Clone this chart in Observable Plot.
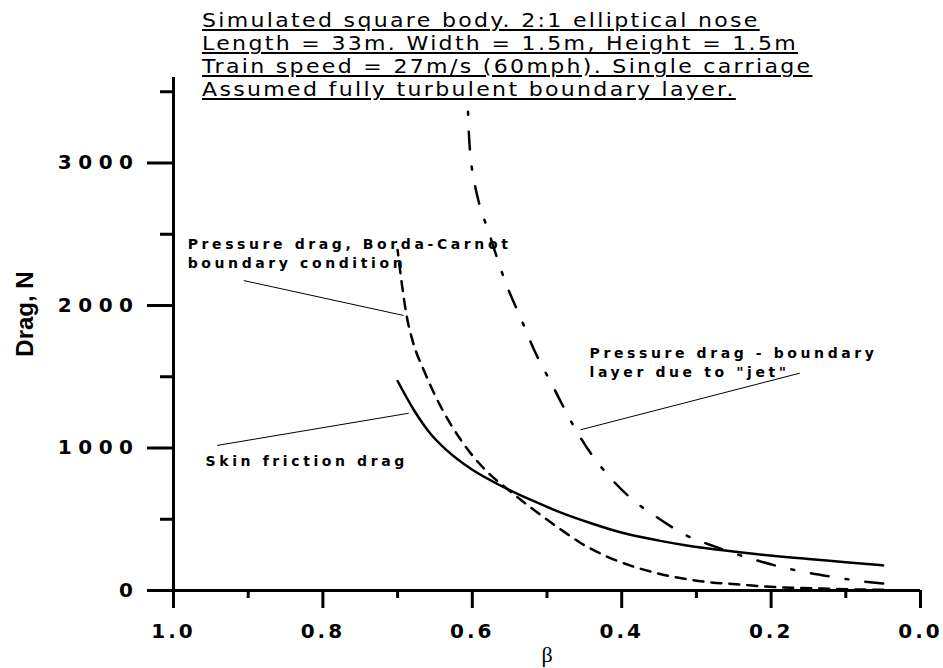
<!DOCTYPE html>
<html><head><meta charset="utf-8">
<script src="https://cdn.jsdelivr.net/npm/d3@7"></script>
<script src="https://cdn.jsdelivr.net/npm/@observablehq/plot@0.6"></script>
<style>
body{margin:0;background:#fff;}
#wrap{position:relative;width:943px;height:668px;}
#title{position:absolute;left:202px;top:9px;font-family:"DejaVu Sans";font-size:19px;line-height:23px;letter-spacing:2px;color:#000;white-space:pre;transform:scaleX(1.16);transform-origin:0 0;}
#title div{text-decoration:underline;text-decoration-thickness:1.5px;text-underline-offset:2px;}
g[aria-label="y-axis tick label"] text{letter-spacing:6.5px;}
g[aria-label="x-axis tick label"] text{letter-spacing:3px;}
g[aria-description="annot"] text{letter-spacing:3.6px;}
</style></head>
<body><div id="wrap"><div id="title"></div></div>
<script>
const titleLines = [
  "Simulated square body. 2:1 elliptical nose",
  "Length = 33m. Width = 1.5m, Height = 1.5m",
  "Train speed = 27m/s (60mph). Single carriage",
  "Assumed fully turbulent boundary layer."
];
const xMajorTicks = [1.0, 0.8, 0.6, 0.4, 0.2, 0.0];
const xMinorTicks = [0.9, 0.7, 0.5, 0.3, 0.1];
const yMajorTicks = [0, 1000, 2000, 3000];
const yMinorTicks = [500, 1500, 2500, 3500];

// Skin friction drag (solid)
const skinBeta = [0.70, 0.678, 0.656, 0.634, 0.602, 0.567, 0.522, 0.483, 0.44, 0.403, 0.35, 0.313, 0.242, 0.215, 0.15, 0.10, 0.05];
const skinDrag = [1470, 1265, 1100, 983, 854, 749, 637, 550, 470, 410, 350, 316, 269, 253, 221, 199, 176];

// Pressure drag, Borda-Carnot (dashed)
const bordaBeta = [0.70, 0.694, 0.688, 0.680, 0.664, 0.642, 0.615, 0.575, 0.556, 0.52, 0.482, 0.456, 0.423, 0.389, 0.353, 0.318, 0.282, 0.242, 0.208, 0.17, 0.132, 0.09, 0.05];
const bordaDrag = [2390, 2140, 1930, 1754, 1535, 1288, 1054, 808, 725, 575, 430, 337, 246, 176, 122, 84, 58, 42, 28, 19, 14, 8, 5];

// Pressure drag, boundary layer due to jet (dash-dot)
const jetBeta = [0.606, 0.6045, 0.602, 0.597, 0.591, 0.579, 0.555, 0.535, 0.515, 0.494, 0.465, 0.441, 0.416, 0.387, 0.353, 0.313, 0.273, 0.219, 0.17, 0.121, 0.067, 0.05];
const jetDrag = [3400, 3200, 3030, 2860, 2720, 2530, 2155, 1909, 1663, 1452, 1160, 960, 796, 644, 515, 386, 304, 211, 145, 98, 58, 49];

const annotText = ["Pressure drag, Borda-Carnot\nboundary condition", "Skin friction drag", "Pressure drag - boundary\nlayer due to \"jet\""];
const annotBeta = [0.981, 0.957, 0.443];
const annotDrag = [2260, 877, 1497];

const leaderBeta1 = [0.906, 0.9415, 0.455];
const leaderDrag1 = [2175, 1018, 1128];
const leaderBeta2 = [0.692, 0.685, 0.1616];
const leaderDrag2 = [1930, 1244, 1525];

const toRows = (bs, vs) => bs.map((b, i) => ({beta: b, drag: vs[i]})).sort((a, b) => a.beta - b.beta);
const skin = toRows(skinBeta, skinDrag);
const borda = toRows(bordaBeta, bordaDrag);
const jet = toRows(jetBeta, jetDrag);
const annots = annotText.map((t, i) => ({text: t, beta: annotBeta[i], drag: annotDrag[i]}));
const leaders = leaderBeta1.map((b, i) => ({b1: b, d1: leaderDrag1[i], b2: leaderBeta2[i], d2: leaderDrag2[i]}));

const chart = Plot.plot({
  width: 943, height: 668,
  marginLeft: 173, marginRight: 23, marginTop: 77, marginBottom: 78,
  x: {domain: [1, 0], label: null},
  y: {domain: [0, 3600], label: null},
  style: {background: "#fff", color: "#000"},
  marks: [
    Plot.axisX(xMajorTicks, {tickSize: 18, tickPadding: 15, strokeWidth: 3, fontSize: 20, fontWeight: "bold", fontFamily: "DejaVu Sans", tickFormat: d => d.toFixed(1), label: null}),
    Plot.axisX(xMinorTicks, {tickSize: 8, strokeWidth: 3, tickFormat: () => "", label: null}),
    Plot.axisY(yMajorTicks, {tickSize: 26, tickPadding: 8, strokeWidth: 3, fontSize: 20, fontWeight: "bold", fontFamily: "DejaVu Sans", tickFormat: d => String(d), label: null}),
    Plot.axisY(yMinorTicks, {tickSize: 13, strokeWidth: 3, tickFormat: () => "", label: null}),
    Plot.ruleY([0], {strokeWidth: 3}),
    Plot.ruleX([1], {strokeWidth: 3, insetBottom: -18}),
    Plot.line(skin, {x: "beta", y: "drag", strokeWidth: 2.5, curve: "monotone-x"}),
    Plot.line(borda, {x: "beta", y: "drag", strokeWidth: 2.5, strokeDasharray: "10,8", curve: "monotone-x"}),
    Plot.line(jet, {x: "beta", y: "drag", strokeWidth: 2.5, strokeDasharray: "18,17,3,17", curve: "monotone-x"}),
    Plot.link(leaders, {x1: "b1", y1: "d1", x2: "b2", y2: "d2", strokeWidth: 1}),
    Plot.text(annots, {x: "beta", y: "drag", text: "text", textAnchor: "start", lineAnchor: "bottom", lineHeight: 1.36, fontSize: 14, fontWeight: "bold", fontFamily: "DejaVu Sans", ariaDescription: "annot"}),
    Plot.text(["Drag, N"], {frameAnchor: "left", dx: -148, dy: -20, rotate: -90, textAnchor: "middle", lineAnchor: "middle", fontSize: 24, fontWeight: "bold", fontFamily: "Liberation Sans"}),
    Plot.text(["β"], {frameAnchor: "bottom", dy: 71, textAnchor: "middle", lineAnchor: "bottom", fontSize: 22, fontFamily: "Liberation Serif"})
  ]
});
const wrap = document.getElementById("wrap");
wrap.insertBefore(chart, wrap.firstChild);
const title = document.getElementById("title");
titleLines.forEach(t => { const d = document.createElement("div"); d.textContent = t; title.appendChild(d); });
</script>
</body></html>
